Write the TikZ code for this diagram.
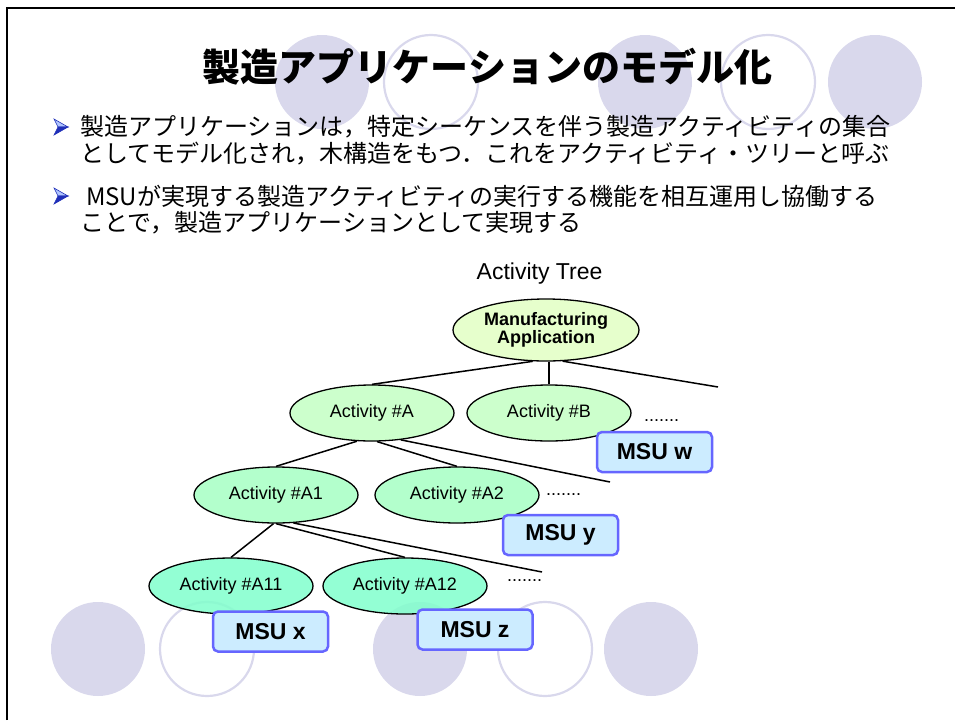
\documentclass[tikz,border=0pt]{standalone}
\usepackage{fontspec}
\setmainfont{Liberation Sans}
\newfontfamily\jp{Noto Sans CJK JP}
\usetikzlibrary{shapes.geometric}
\definecolor{lav}{HTML}{D9D8EC}
\definecolor{rootfill}{HTML}{E6FFCC}
\definecolor{lonefill}{HTML}{CCFFCC}
\definecolor{ltwofill}{HTML}{B3FFCC}
\definecolor{lthreefill}{HTML}{80FFCC}
\definecolor{msufill}{HTML}{CCECFF}
\definecolor{msuline}{HTML}{6666FF}
\definecolor{bulletdark}{HTML}{1F2FB8}
\definecolor{bulletlight}{HTML}{AFC4FF}
\tikzset{
  decodisc/.style={fill=lav, draw=none},
  decoring/.style={draw=lav, line width=2.2pt, fill=none},
  act/.style={ellipse, draw=black, line width=1.3pt, minimum width=164pt, minimum height=56pt,
    inner sep=0pt, text opacity=1, font=\fontsize{18}{20}\selectfont},
  msu/.style={draw=msuline, fill=msufill, line width=2.5pt, rounded corners=5pt,
    minimum width=115pt, minimum height=40pt, inner sep=0pt, font=\fontsize{23}{26}\selectfont\bfseries},
  treeedge/.style={line width=1.5pt},
  dotsnode/.style={anchor=base west, inner sep=0pt, font=\fontsize{18}{20}\selectfont},
  jptext/.style={anchor=west, inner sep=0pt, font=\jp\fontsize{24}{28}\selectfont},
  bulletup/.style={fill=bulletlight, draw=bulletdark, line width=0.6pt},
  bulletdown/.style={fill=bulletdark, draw=bulletdark, line width=0.6pt},
}
\newcommand{\mybullet}[2]{%
  \filldraw[bulletup] (#1-14,#2-8) -- (#1,#2) -- (#1-10,#2) -- cycle;
  \filldraw[bulletdown] (#1-14,#2+8) -- (#1,#2) -- (#1-10,#2) -- cycle;}
\begin{document}
\begin{tikzpicture}[x=1pt,y=-1pt]
\useasboundingbox (0,0) rectangle (955,720);
% frame
\draw[line width=2.5pt] (7,720) -- (7,8) -- (955,8);
% decorative circles, top row
\fill[decodisc] (322,82) circle (47);
\draw[decoring] (431,82) circle (47);
\fill[decodisc] (645,82) circle (47);
\draw[decoring] (768,82) circle (47);
\fill[decodisc] (875,82) circle (47);
% decorative circles, bottom row
\fill[decodisc] (98,649) circle (47);
\draw[decoring] (207,649) circle (47);
\fill[decodisc] (420,649) circle (47);
\draw[decoring] (545,649) circle (47);
\fill[decodisc] (651,649) circle (47);
% title
\node[font=\jp\bfseries\fontsize{38}{44}\selectfont, inner sep=0pt] (title) at (487.5,67) {製造アプリケーションのモデル化};
% bullets
\mybullet{68}{127}
\mybullet{68}{196}
\node[jptext] (l1) at (80,127) {製造アプリケーションは，特定シーケンスを伴う製造アクティビティの集合};
\node[jptext] (l2) at (80,154) {としてモデル化され，木構造をもつ．これをアクティビティ・ツリーと呼ぶ};
\node[jptext] (l3) at (86,196) {MSUが実現する製造アクティビティの実行する機能を相互運用し協働する};
\node[jptext] (l4) at (80,223) {ことで，製造アプリケーションとして実現する};
% tree
\node[font=\fontsize{23}{26}\selectfont, inner sep=0pt] (treetitle) at (539.5,274) {Activity Tree};
\node[act, fill=rootfill, minimum width=186pt, minimum height=62pt, align=center,
  font=\fontsize{18}{18.5}\selectfont\bfseries] (root) at (546,330) {Manufacturing\\Application};
\node[act, fill=lonefill] (A) at (372,413) {Activity \#A};
\node[act, fill=lonefill] (B) at (549,413) {Activity \#B};
\node[act, fill=ltwofill] (A1) at (276,495) {Activity \#A1};
\node[act, fill=ltwofill] (A2) at (457,495) {Activity \#A2};
\node[act, fill=lthreefill, fill opacity=0.85] (A11) at (231,586) {Activity \#A11};
\node[act, fill=lthreefill, fill opacity=0.85] (A12) at (405,586) {Activity \#A12};
\node[dotsnode] (dB) at (644,421) {.......};
\node[dotsnode] (dA2) at (546,495) {.......};
\node[dotsnode] (dA12) at (507,581) {.......};
\coordinate (rootR) at (718,387);
\coordinate (AR) at (610,482);
\coordinate (A1R) at (542,572);
% edges
\begin{scope}[on background layer/.style={}]
\draw[treeedge] (root.247) -- (A.north);
\draw[line width=2.6pt] (B.north |- root.south) -- (B.north);
\draw[treeedge] (root.-62) -- (rootR);
\draw[treeedge] (A.242) -- (A1.north);
\draw[treeedge] (A.-80) -- (A2.north);
\draw[treeedge] (A.-43) -- (AR);
\draw[treeedge] (A1.265) -- (A11.north);
\draw[treeedge] (A1.south) -- (A12.north);
\draw[treeedge] (A1.-58) -- (A1R);
\end{scope}
% MSU boxes
\node[msu] (msuw) at (654.5,452) {MSU w};
\node[msu] (msuy) at (560.5,535) {MSU y};
\node[msu] (msux) at (270.5,631.5) {MSU x};
\node[msu] (msuz) at (475,629.5) {MSU z};
\end{tikzpicture}
\end{document}
